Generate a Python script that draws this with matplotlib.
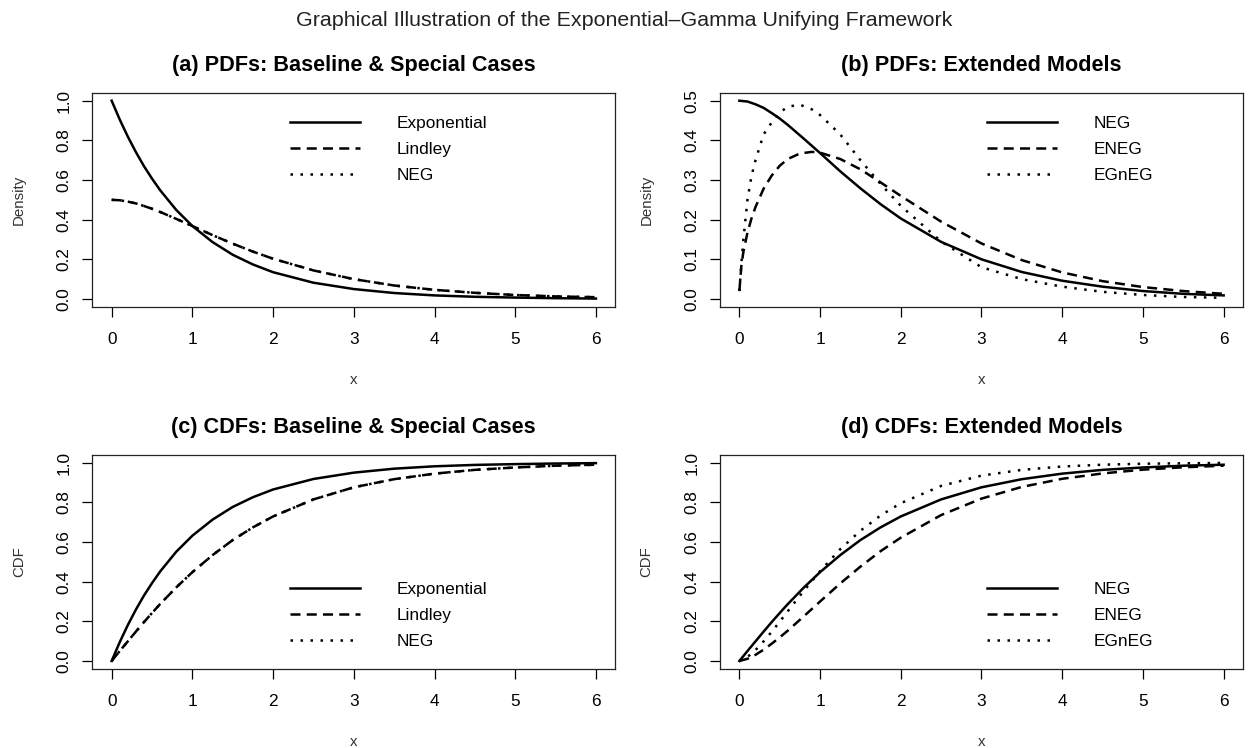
import matplotlib
matplotlib.use("Agg")
import matplotlib.pyplot as plt

plt.rcParams['font.family'] = ['Liberation Sans', 'DejaVu Sans']

# values
x_grid = [0, 0.1, 0.2, 0.3, 0.4, 0.5, 0.6, 0.8, 1.0, 1.25, 1.5, 1.75, 2.0,
          2.5, 3.0, 3.5, 4.0, 4.5, 5.0, 5.5, 6.0]
x_fine = [0, 0.025, 0.05, 0.1, 0.15, 0.2, 0.3, 0.4, 0.5, 0.6, 0.75, 0.9, 1.0,
          1.25, 1.5, 1.75, 2.0, 2.5, 3.0, 3.5, 4.0, 4.5, 5.0, 5.5, 6.0]

# densities
exp_pdf = [1.0, 0.905, 0.819, 0.741, 0.670, 0.607, 0.549, 0.449, 0.368, 0.287,
           0.223, 0.174, 0.135, 0.082, 0.050, 0.030, 0.018, 0.011, 0.007, 0.004, 0.002]
lindley_pdf = [0.500, 0.498, 0.491, 0.482, 0.469, 0.455, 0.439, 0.404, 0.368, 0.322,
               0.279, 0.239, 0.203, 0.144, 0.100, 0.068, 0.046, 0.031, 0.020, 0.013, 0.009]
neg_pdf = [0.500, 0.498, 0.491, 0.482, 0.469, 0.455, 0.439, 0.404, 0.368, 0.322,
           0.279, 0.239, 0.203, 0.144, 0.100, 0.068, 0.046, 0.031, 0.020, 0.013, 0.009]
eneg_pdf = [0.020, 0.084, 0.119, 0.167, 0.203, 0.232, 0.278, 0.311, 0.336, 0.353,
            0.367, 0.371, 0.369, 0.353, 0.327, 0.294, 0.260, 0.195, 0.140, 0.098,
            0.067, 0.045, 0.030, 0.020, 0.013]
egneg_pdf = [0.020, 0.090, 0.150, 0.250, 0.310, 0.350, 0.415, 0.445, 0.470, 0.485,
             0.490, 0.478, 0.464, 0.415, 0.350, 0.290, 0.235, 0.145, 0.080, 0.050,
             0.031, 0.018, 0.010, 0.005, 0.003]

# distribution functions
exp_cdf = [0.0, 0.095, 0.181, 0.259, 0.330, 0.393, 0.451, 0.551, 0.632, 0.713,
           0.777, 0.826, 0.865, 0.918, 0.950, 0.970, 0.982, 0.989, 0.993, 0.996, 0.998]
lindley_cdf = [0.0, 0.050, 0.099, 0.148, 0.196, 0.242, 0.287, 0.371, 0.448, 0.534,
               0.610, 0.674, 0.729, 0.815, 0.876, 0.917, 0.945, 0.964, 0.976, 0.985, 0.990]
neg_cdf = [0.0, 0.050, 0.099, 0.148, 0.196, 0.242, 0.287, 0.371, 0.448, 0.534,
           0.610, 0.674, 0.729, 0.815, 0.876, 0.917, 0.945, 0.964, 0.976, 0.985, 0.990]
eneg_cdf = [0.0, 0.011, 0.031, 0.057, 0.087, 0.119, 0.153, 0.226, 0.300, 0.391,
            0.476, 0.554, 0.622, 0.736, 0.819, 0.878, 0.919, 0.946, 0.965, 0.977, 0.985]
egneg_cdf = [0.0, 0.020, 0.055, 0.099, 0.147, 0.198, 0.251, 0.355, 0.453, 0.564,
             0.657, 0.734, 0.796, 0.883, 0.935, 0.964, 0.981, 0.990, 0.995, 0.997, 0.999]

titles = ["(a) PDFs: Baseline & Special Cases", "(b) PDFs: Extended Models",
          "(c) CDFs: Baseline & Special Cases", "(d) CDFs: Extended Models"]
x_ticks = [0, 1, 2, 3, 4, 5, 6]

LW = 1.8
SOLID = '-'
DASHED = (0, (4, 2.5))
DOTTED = (0, (1, 3))

W, H = 1248, 748
fig = plt.figure(figsize=(W / 100, H / 100), dpi=100)


def make_axes(left_px, top_px):
    return fig.add_axes([left_px / W, 1 - (top_px + 214.1) / H, 523 / W, 214.1 / H])


def style(ax, title, ylabel, yticks, ymax):
    ax.set_xlim(-0.24, 6.24)
    ax.set_ylim(-0.04 * ymax, 1.04 * ymax)
    ax.set_xticks(x_ticks)
    ax.set_xticklabels([str(t) for t in x_ticks])
    ax.set_yticks(yticks)
    ax.set_yticklabels(["%.1f" % t for t in yticks])
    ax.tick_params(axis='x', direction='out', length=7.2, width=0.9,
                   labelsize=12.4, pad=11.2)
    ax.tick_params(axis='y', direction='out', length=7.2, width=0.9,
                   labelsize=12.4, pad=7.8, labelrotation=90)
    for lab in ax.get_yticklabels():
        lab.set_va('center')
    for sp in ax.spines.values():
        sp.set_linewidth(0.9)
        sp.set_color('#222222')
    ax.set_title(title, fontsize=15.6, fontweight='bold', pad=15.9)
    ax.set_xlabel("x", fontsize=10.8, color='#333333')
    ax.set_ylabel(ylabel, fontsize=10.8, color='#333333')
    ax.xaxis.label.set_va('center')
    ax.yaxis.label.set_va('center')
    ax.xaxis.set_label_coords(0.5, -73.1 / 214.1)
    ax.yaxis.set_label_coords(-73.3 / 523, 0.5)


def add_legend(ax, x_frac, y_frac):
    ax.legend(loc='upper left', bbox_to_anchor=(x_frac, y_frac), frameon=False,
              fontsize=12.4, handlelength=4.07, handletextpad=2.1,
              labelspacing=0.64, borderpad=0, borderaxespad=0)


# (a)
ax = make_axes(92.3, 92.8)
ax.plot(x_grid, exp_pdf, color='black', lw=LW, linestyle=SOLID, label='Exponential')
ax.plot(x_grid, lindley_pdf, color='black', lw=LW, linestyle=DASHED, label='Lindley')
ax.plot(x_grid, neg_pdf, color='black', lw=LW, linestyle=DOTTED, label='NEG')
style(ax, titles[0], "Density", [0, 0.2, 0.4, 0.6, 0.8, 1.0], 1.0)
add_legend(ax, 0.378, 0.891)

# (b)
ax = make_axes(720, 92.8)
ax.plot(x_grid, neg_pdf, color='black', lw=LW, linestyle=SOLID, label='NEG')
ax.plot(x_fine, eneg_pdf, color='black', lw=LW, linestyle=DASHED, label='ENEG')
ax.plot(x_fine, egneg_pdf, color='black', lw=LW, linestyle=DOTTED, label='EGnEG')
style(ax, titles[1], "Density", [0, 0.1, 0.2, 0.3, 0.4, 0.5], 0.5)
add_legend(ax, 0.511, 0.891)

# (c)
ax = make_axes(92.3, 454.8)
ax.plot(x_grid, exp_cdf, color='black', lw=LW, linestyle=SOLID, label='Exponential')
ax.plot(x_grid, lindley_cdf, color='black', lw=LW, linestyle=DASHED, label='Lindley')
ax.plot(x_grid, neg_cdf, color='black', lw=LW, linestyle=DOTTED, label='NEG')
style(ax, titles[2], "CDF", [0, 0.2, 0.4, 0.6, 0.8, 1.0], 1.0)
add_legend(ax, 0.378, 0.406)

# (d)
ax = make_axes(720, 454.8)
ax.plot(x_grid, neg_cdf, color='black', lw=LW, linestyle=SOLID, label='NEG')
ax.plot(x_grid, eneg_cdf, color='black', lw=LW, linestyle=DASHED, label='ENEG')
ax.plot(x_grid, egneg_cdf, color='black', lw=LW, linestyle=DOTTED, label='EGnEG')
style(ax, titles[3], "CDF", [0, 0.2, 0.4, 0.6, 0.8, 1.0], 1.0)
add_legend(ax, 0.511, 0.406)

fig.text(0.5, 1 - 26 / H, "Graphical Illustration of the Exponential\u2013Gamma Unifying Framework",
         ha='center', va='baseline', fontsize=15.4, color='#222222')

fig.savefig("out.png", dpi=100)
